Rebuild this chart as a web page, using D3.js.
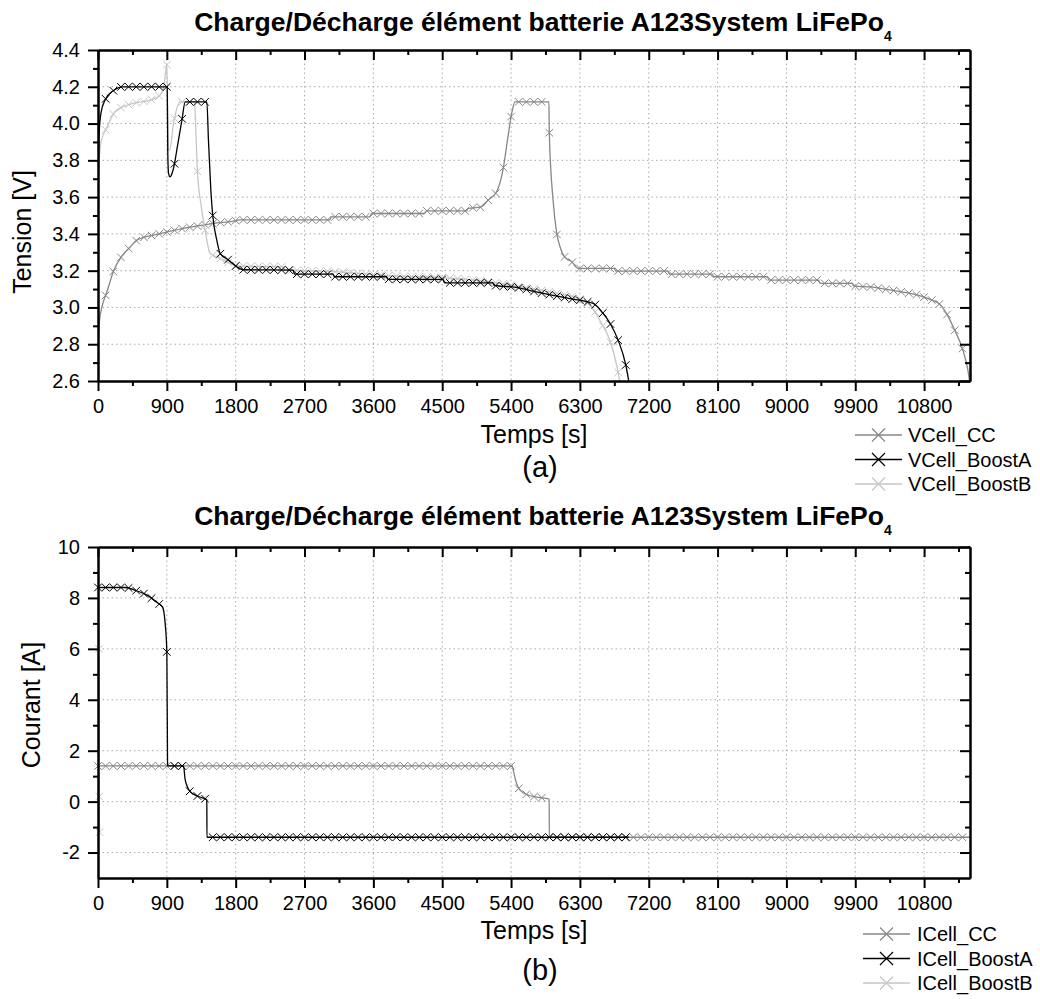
<!DOCTYPE html>
<meta charset="utf-8">
<title>Charge/Décharge A123System LiFePo4</title>
<style>
html, body {
    margin: 0;
    background: #fff;
}
svg {
    display: block;
    font-family: "Liberation Sans", Arial, sans-serif;
}
</style>
<body>
<script src="https://cdn.jsdelivr.net/npm/d3@7/dist/d3.min.js"></script>
<script>
var width = 1040,
    height = 999;

// axes
var timeMax = 11400;
var timeTicks = [0, 900, 1800, 2700, 3600, 4500, 5400, 6300, 7200, 8100, 9000, 9900, 10800];
var timeMinor = [450, 1350, 2250, 3150, 4050, 4950, 5850, 6750, 7650, 8550, 9450, 10350, 11250];
var voltTicks = [2.6, 2.8, 3.0, 3.2, 3.4, 3.6, 3.8, 4.0, 4.2, 4.4];
var voltMinor = [2.7, 2.9, 3.1, 3.3, 3.5, 3.7, 3.9, 4.1, 4.3];
var currTicks = [-2, 0, 2, 4, 6, 8, 10];
var currMinor = [-1, 1, 3, 5, 7, 9];
var markStep = 100;

// tension [V] vs temps [s]
var vCellCC = [[0, 2.82], [20, 2.93], [50, 3.0], [117, 3.085], [204, 3.2], [313, 3.28], [422, 3.33],
    [509, 3.366], [596, 3.381], [726, 3.393], [900, 3.41], [1118, 3.43], [1293, 3.442], [1510, 3.457],
    [1771, 3.47], [1850, 3.476], [3030, 3.476], [3050, 3.493], [3550, 3.493], [3580, 3.511],
    [4270, 3.511], [4290, 3.525], [4820, 3.525], [4840, 3.539], [5000, 3.545], [5101, 3.584],
    [5211, 3.629], [5298, 3.756], [5350, 3.9], [5408, 4.055], [5451, 4.118], [5895, 4.118],
    [5900, 3.95], [5950, 3.58], [5995, 3.41], [6040, 3.33], [6100, 3.275], [6190, 3.25],
    [6278, 3.212], [6750, 3.212], [6770, 3.198], [7450, 3.198], [7470, 3.181], [8030, 3.181],
    [8050, 3.167], [8750, 3.167], [8770, 3.149], [9420, 3.149], [9440, 3.131], [9860, 3.131],
    [9880, 3.117], [10125, 3.11], [10306, 3.098], [10500, 3.085], [10741, 3.064], [10900, 3.04],
    [11003, 3.018], [11112, 2.953], [11199, 2.877], [11299, 2.778], [11372, 2.66], [11394, 2.6]];

var vCellBoostA = [[0, 3.7], [15, 3.95], [40, 4.06], [95, 4.13], [204, 4.18], [320, 4.2], [905, 4.2],
    [912, 3.85], [922, 3.73], [940, 3.71], [960, 3.72], [987, 3.756], [1040, 3.88], [1097, 4.018],
    [1140, 4.118], [1423, 4.118], [1444, 3.91], [1475, 3.64], [1500, 3.5], [1553, 3.366],
    [1597, 3.294], [1706, 3.258], [1815, 3.221], [1900, 3.205], [2550, 3.203], [2570, 3.181],
    [3070, 3.181], [3090, 3.167], [3770, 3.167], [3790, 3.153], [4510, 3.153], [4530, 3.134],
    [5160, 3.134], [5180, 3.12], [5470, 3.109], [5776, 3.08], [5994, 3.062], [6190, 3.046],
    [6400, 3.03], [6494, 3.017], [6603, 2.968], [6690, 2.917], [6799, 2.823], [6900, 2.687],
    [6939, 2.6]];

var vCellBoostB = [[0, 3.6], [10, 3.76], [40, 3.9], [117, 3.98], [220, 4.064], [320, 4.09],
    [460, 4.11], [680, 4.128], [800, 4.15], [860, 4.2], [900, 4.32], [910, 4.1], [918, 3.86],
    [935, 3.855], [987, 4.0], [1074, 4.118], [1262, 4.118], [1280, 3.95], [1300, 3.74],
    [1350, 3.55], [1400, 3.42], [1466, 3.294], [1597, 3.267], [1727, 3.24], [1850, 3.225],
    [2420, 3.221], [2440, 3.205], [3077, 3.195], [3915, 3.17], [4557, 3.16], [5210, 3.134],
    [5515, 3.113], [5994, 3.077], [6212, 3.058], [6450, 3.004], [6582, 2.914], [6690, 2.823],
    [6790, 2.669], [6820, 2.6]];

// courant [A] vs temps [s]
var iCellCC = [[0, 1.4], [5415, 1.4], [5428, 1.24], [5471, 0.72], [5514, 0.46], [5623, 0.26],
    [5754, 0.17], [5885, 0.11], [5899, 0.1], [5900, -1.4], [11394, -1.4]];

var iCellBoostA = [[0, 8.41], [356, 8.41], [487, 8.3], [640, 8.11], [791, 7.78], [843, 7.65],
    [878, 7.0], [900, 5.88], [909, 1.6], [910, 1.4], [1118, 1.4], [1140, 0.85], [1205, 0.39],
    [1314, 0.2], [1423, 0.07], [1424, -1.4], [6939, -1.4]];

var iCellBoostB = [[0, 8.4], [12, 6.0], [16, 0.2], [20, -1.2]];

var colCC = "#878787", colA = "#000", colB = "#c6c6c6";

var svg = d3.select("body").append("svg")
    .attr("width", width)
    .attr("height", height);

var x = d3.scaleLinear().domain([0, timeMax]).range([98, 970]);

panel({
    top: 50, bottom: 381,
    domain: [2.6, 4.4], ticks: voltTicks, minor: voltMinor, fmt: d3.format(".1f"),
    titleY: 31, yLabel: "Tension [V]", yLabelX: 22, yLabelY: 232,
    xLabelY: 434, tag: "(a)", tagY: 467, markFrom: markStep,
    series: [
        {name: "VCell_CC", data: vCellCC, color: colCC},
        {name: "VCell_BoostB", data: vCellBoostB, color: colB},
        {name: "VCell_BoostA", data: vCellBoostA, color: colA}
    ],
    legend: {x1: 855, x2: 902, tx: 908, y: 435, order: [0, 2, 1]},
    id: "a"
});

panel({
    top: 547, bottom: 878,
    domain: [-3, 10], ticks: currTicks, minor: currMinor, fmt: function(d) { return String(d); },
    titleY: 525, yLabel: "Courant [A]", yLabelX: 31, yLabelY: 705,
    xLabelY: 930, tag: "(b)", tagY: 970, markFrom: 0,
    series: [
        {name: "ICell_CC", data: iCellCC, color: colCC},
        {name: "ICell_BoostB", data: iCellBoostB, color: colB, atPoints: true},
        {name: "ICell_BoostA", data: iCellBoostA, color: colA}
    ],
    legend: {x1: 863, x2: 910, tx: 917, y: 934, order: [0, 2, 1]},
    id: "b"
});

function panel(p) {
    var y = d3.scaleLinear().domain(p.domain).range([p.bottom, p.top]);
    var g = svg.append("g");

    g.append("clipPath").attr("id", "clip-" + p.id)
        .append("rect")
        .attr("x", x(0)).attr("y", p.top)
        .attr("width", x(timeMax) - x(0)).attr("height", p.bottom - p.top);

    // dotted grid
    g.append("g").selectAll("line")
        .data(timeTicks.filter(function(d) { return d > 0; }))
        .enter().append("line")
        .attr("x1", function(d) { return x(d); }).attr("x2", function(d) { return x(d); })
        .attr("y1", p.top).attr("y2", p.bottom)
        .attr("stroke", "#aaa").attr("stroke-width", 1).attr("stroke-dasharray", "1.5,3");
    g.append("g").selectAll("line")
        .data(p.ticks.filter(function(d) { return d > p.domain[0] && d < p.domain[1]; }))
        .enter().append("line")
        .attr("x1", x(0)).attr("x2", x(timeMax))
        .attr("y1", function(d) { return y(d); }).attr("y2", function(d) { return y(d); })
        .attr("stroke", "#aaa").attr("stroke-width", 1).attr("stroke-dasharray", "1.5,3");

    // series
    var line = d3.line()
        .x(function(d) { return x(d[0]); })
        .y(function(d) { return y(d[1]); })
        .curve(d3.curveMonotoneX);

    p.series.forEach(function(s) {
        var path = g.append("path")
            .attr("clip-path", "url(#clip-" + p.id + ")")
            .attr("fill", "none")
            .attr("stroke", s.color)
            .attr("stroke-width", 1.3)
            .attr("d", line(s.data));

        var pts;
        if (s.atPoints) {
            pts = s.data.slice(1).map(function(d) { return {x: x(d[0]), y: y(d[1])}; });
        } else {
            var tEnd = s.data[s.data.length - 1][0];
            pts = d3.range(p.markFrom, tEnd + 1, markStep).map(function(t) { return pointAtX(path.node(), x(t)); });
        }
        g.append("g").selectAll("path")
            .data(pts)
            .enter().append("path")
            .attr("d", function(d) { return cross(d.x, d.y, 3.8); })
            .attr("stroke", s.color)
            .attr("stroke-width", 1);
    });

    // axes
    function styleAxis(a) {
        a.select(".domain").attr("stroke-width", 2);
        a.selectAll(".tick line").attr("stroke-width", 2);
        a.selectAll("text").attr("font-size", 20).attr("fill", "#000");
    }
    g.append("g").attr("transform", "translate(0," + p.bottom + ")")
        .call(d3.axisBottom(x).tickValues(timeTicks).tickSize(10).tickSizeOuter(0).tickPadding(8)
            .tickFormat(function(d) { return String(d); }))
        .call(styleAxis);
    g.append("g").attr("transform", "translate(0," + p.bottom + ")")
        .call(d3.axisBottom(x).tickValues(timeMinor).tickSize(5).tickSizeOuter(0).tickFormat(""))
        .call(styleAxis);
    g.append("g").attr("transform", "translate(0," + p.top + ")")
        .call(d3.axisTop(x).tickValues(timeTicks).tickSize(-10).tickSizeOuter(0).tickFormat(""))
        .call(styleAxis);
    g.append("g").attr("transform", "translate(0," + p.top + ")")
        .call(d3.axisTop(x).tickValues(timeMinor).tickSize(-5).tickSizeOuter(0).tickFormat(""))
        .call(styleAxis);
    g.append("g").attr("transform", "translate(" + x(0) + ",0)")
        .call(d3.axisLeft(y).tickValues(p.ticks).tickSize(10).tickSizeOuter(0).tickPadding(8).tickFormat(p.fmt))
        .call(styleAxis);
    g.append("g").attr("transform", "translate(" + x(0) + ",0)")
        .call(d3.axisLeft(y).tickValues(p.minor).tickSize(5).tickSizeOuter(0).tickFormat(""))
        .call(styleAxis);
    g.append("g").attr("transform", "translate(" + x(timeMax) + ",0)")
        .call(d3.axisRight(y).tickValues(p.ticks).tickSize(-10).tickSizeOuter(0).tickFormat(""))
        .call(styleAxis);
    g.append("g").attr("transform", "translate(" + x(timeMax) + ",0)")
        .call(d3.axisRight(y).tickValues(p.minor).tickSize(-5).tickSizeOuter(0).tickFormat(""))
        .call(styleAxis);

    // texts
    var title = g.append("text")
        .attr("x", 543).attr("y", p.titleY)
        .attr("text-anchor", "middle")
        .attr("font-size", 26.5).attr("font-weight", "bold");
    title.append("tspan").text("Charge/Décharge élément batterie A123System LiFePo");
    title.append("tspan").attr("font-size", 14).attr("dy", 10).text("4");

    g.append("text")
        .attr("transform", "translate(" + p.yLabelX + "," + p.yLabelY + ") rotate(-90)")
        .attr("text-anchor", "middle").attr("dominant-baseline", "central")
        .attr("font-size", 25).text(p.yLabel);

    g.append("text")
        .attr("x", 534).attr("y", p.xLabelY)
        .attr("text-anchor", "middle").attr("dominant-baseline", "central")
        .attr("font-size", 25).text("Temps [s]");

    g.append("text")
        .attr("x", 540).attr("y", p.tagY)
        .attr("text-anchor", "middle").attr("dominant-baseline", "central")
        .attr("font-size", 29).text(p.tag);

    // legend
    var L = p.legend;
    var rows = g.append("g").selectAll("g")
        .data(L.order.map(function(i) { return p.series[i]; }))
        .enter().append("g")
        .attr("transform", function(d, i) { return "translate(0," + (L.y + i * 24.5) + ")"; });
    rows.append("line")
        .attr("x1", L.x1).attr("x2", L.x2)
        .attr("stroke", function(d) { return d.color; }).attr("stroke-width", 1.3);
    rows.append("path")
        .attr("d", cross((L.x1 + L.x2) / 2, 0, 6.5))
        .attr("stroke", function(d) { return d.color; }).attr("stroke-width", 1.2);
    rows.append("text")
        .attr("x", L.tx).attr("dominant-baseline", "central")
        .attr("font-size", 20).text(function(d) { return d.name; });
}

function cross(cx, cy, r) {
    return "M" + (cx - r) + "," + (cy - r) + "L" + (cx + r) + "," + (cy + r) +
        "M" + (cx - r) + "," + (cy + r) + "L" + (cx + r) + "," + (cy - r);
}

// point of the drawn path where it reaches a given x
function pointAtX(node, px) {
    var lo = 0, hi = node.getTotalLength();
    for (var k = 0; k < 30; k++) {
        var mid = (lo + hi) / 2;
        if (node.getPointAtLength(mid).x < px) lo = mid; else hi = mid;
    }
    return node.getPointAtLength(hi);
}
</script>
